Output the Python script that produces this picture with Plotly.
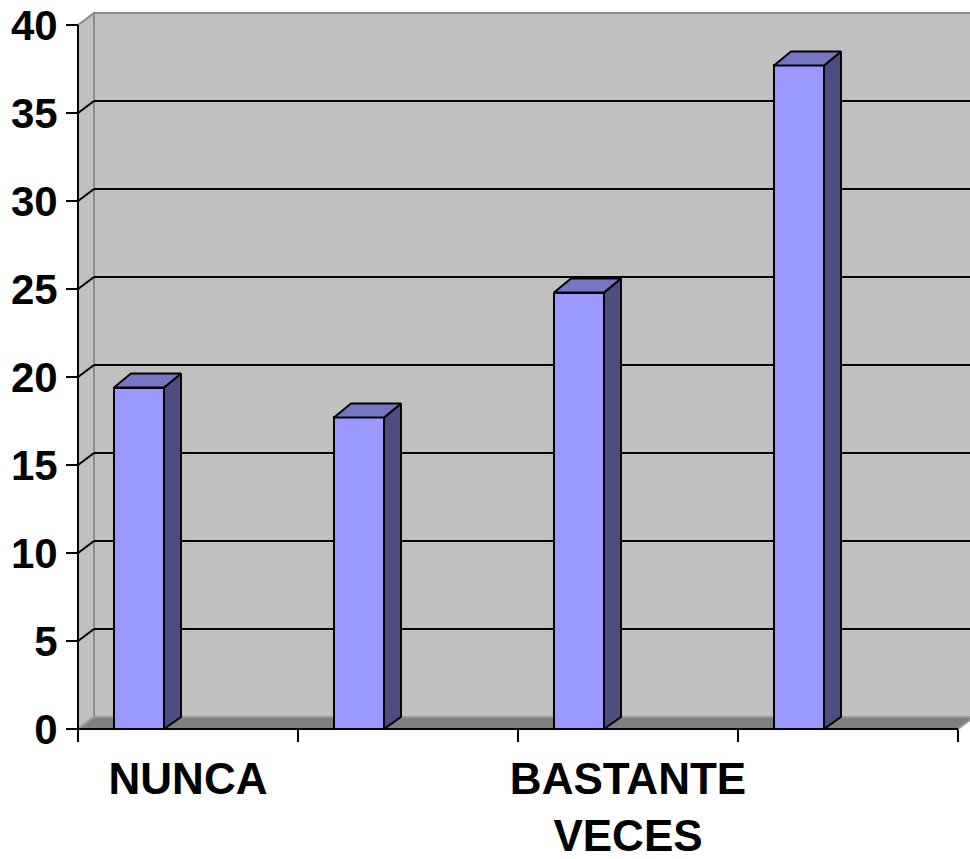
import plotly.graph_objects as go

# ---- data ----
categories = [0, 1, 2, 3]
tick_labels = ["NUNCA", "", "BASTANTE<br>VECES", ""]
values = [19.4, 17.7, 24.8, 37.7]
y_ticks = [0, 5, 10, 15, 20, 25, 30, 35, 40]

# ---- layout constants (pixels) ----
W, H = 970, 859
AX_X = 78           # front-left corner of the floor
AX_Y = 729          # front baseline
PX_CAT = 220        # pixels per category
PX_UNIT = 17.6      # pixels per value unit
Y_MAX = 40

# wall / bar depth (pseudo-3D offsets in data units)
WALL_DX, WALL_DY = 16 / PX_CAT, 12 / PX_UNIT
BAR_DX, BAR_DY = 17 / PX_CAT, 14 / PX_UNIT
BAR_OFFSET = 36 / PX_CAT - 0.5
BAR_WIDTH = 50 / PX_CAT

x0 = -0.5
x1 = len(categories) - 0.5
x_range = [x0 - AX_X / PX_CAT, x0 + (W - AX_X) / PX_CAT]
y_range = [(AX_Y - H) / PX_UNIT, AX_Y / PX_UNIT]

WALL = "#C0C0C0"
WALL_EDGE = "#8C8C8C"
FLOOR = "#808080"
FRONT = "#9999FF"
TOP = "#7676C4"
SIDE = "#4D4D80"

shapes = []


def poly(pts):
    return "M " + " L ".join(f"{px},{py}" for px, py in pts) + " Z"


# back wall
shapes.append(dict(type="path", layer="below", xref="x", yref="y",
                   path=poly([(x0 + WALL_DX, WALL_DY), (x1 + WALL_DX + 1, WALL_DY),
                              (x1 + WALL_DX + 1, Y_MAX + WALL_DY), (x0 + WALL_DX, Y_MAX + WALL_DY)]),
                   fillcolor=WALL, line=dict(color=WALL_EDGE, width=2)))
# side wall
shapes.append(dict(type="path", layer="below", xref="x", yref="y",
                   path=poly([(x0, 0), (x0 + WALL_DX, WALL_DY),
                              (x0 + WALL_DX, Y_MAX + WALL_DY), (x0, Y_MAX)]),
                   fillcolor=WALL, line=dict(color=WALL_EDGE, width=2)))
# floor
shapes.append(dict(type="path", layer="below", xref="x", yref="y",
                   path=poly([(x0, 0), (x1, 0), (x1 + WALL_DX, WALL_DY), (x0 + WALL_DX, WALL_DY)]),
                   fillcolor=FLOOR, line=dict(color="#9A9A9A", width=2)))
# gridlines on the back and side walls
for v in y_ticks[1:-1]:
    shapes.append(dict(type="line", layer="below", xref="x", yref="y",
                       x0=x0 + WALL_DX, x1=x1 + WALL_DX + 1, y0=v + WALL_DY, y1=v + WALL_DY,
                       line=dict(color="black", width=2)))
    shapes.append(dict(type="line", layer="below", xref="x", yref="y",
                       x0=x0, x1=x0 + WALL_DX, y0=v, y1=v + WALL_DY,
                       line=dict(color="black", width=2)))

fig = go.Figure()

# front faces of the columns
fig.add_trace(go.Bar(
    x=categories, y=values, width=BAR_WIDTH, offset=BAR_OFFSET,
    marker=dict(color=FRONT, line=dict(color="black", width=2)),
    hoverinfo="skip", showlegend=False,
))

# top and side faces of the columns
for c, v in zip(categories, values):
    left = c + BAR_OFFSET
    right = left + BAR_WIDTH
    side_x = [right, right + BAR_DX, right + BAR_DX, right, right]
    side_y = [0, WALL_DY, v + BAR_DY, v, 0]
    fig.add_trace(go.Scatter(x=side_x, y=side_y, mode="lines", fill="toself",
                             fillcolor=SIDE, line=dict(color="black", width=2),
                             hoverinfo="skip", showlegend=False))
    top_x = [left, right, right + BAR_DX, left + BAR_DX, left]
    top_y = [v, v, v + BAR_DY, v + BAR_DY, v]
    fig.add_trace(go.Scatter(x=top_x, y=top_y, mode="lines", fill="toself",
                             fillcolor=TOP, line=dict(color="black", width=2),
                             hoverinfo="skip", showlegend=False))

# axis lines on the front plane
fig.add_trace(go.Scatter(x=[x0, x1], y=[0, 0], mode="lines",
                         line=dict(color="black", width=2), hoverinfo="skip", showlegend=False))
fig.add_trace(go.Scatter(x=[x0, x0], y=[0, Y_MAX], mode="lines",
                         line=dict(color="black", width=2), hoverinfo="skip", showlegend=False))

y_font = dict(family="Arial, Liberation Sans", size=42, color="black", weight="bold")
x_font = dict(family="Arial, Liberation Sans", size=44, color="black", weight="bold")

fig.update_layout(
    width=W, height=H,
    margin=dict(l=0, r=0, t=0, b=0),
    paper_bgcolor="white", plot_bgcolor="white",
    shapes=shapes, bargap=0, showlegend=False,
    xaxis=dict(
        range=x_range, domain=[0, 1], anchor="free", position=(H - AX_Y) / H,
        tickmode="array", tickvals=categories, ticktext=tick_labels,
        ticks="", showgrid=False, zeroline=False, showline=False,
        tickfont=x_font, ticklabelstandoff=20,
        minor=dict(tickmode="array", tickvals=[c - 0.5 for c in categories] + [x1],
                   ticks="outside", ticklen=12, tickwidth=2, tickcolor="black", showgrid=False),
    ),
    yaxis=dict(
        range=y_range, domain=[0, 1], anchor="free", position=AX_X / W,
        tickmode="array", tickvals=y_ticks,
        ticks="outside", ticklen=12, tickwidth=2, tickcolor="black",
        showgrid=False, zeroline=False, showline=False,
        tickfont=y_font,
    ),
)

fig.write_html("out.html")
